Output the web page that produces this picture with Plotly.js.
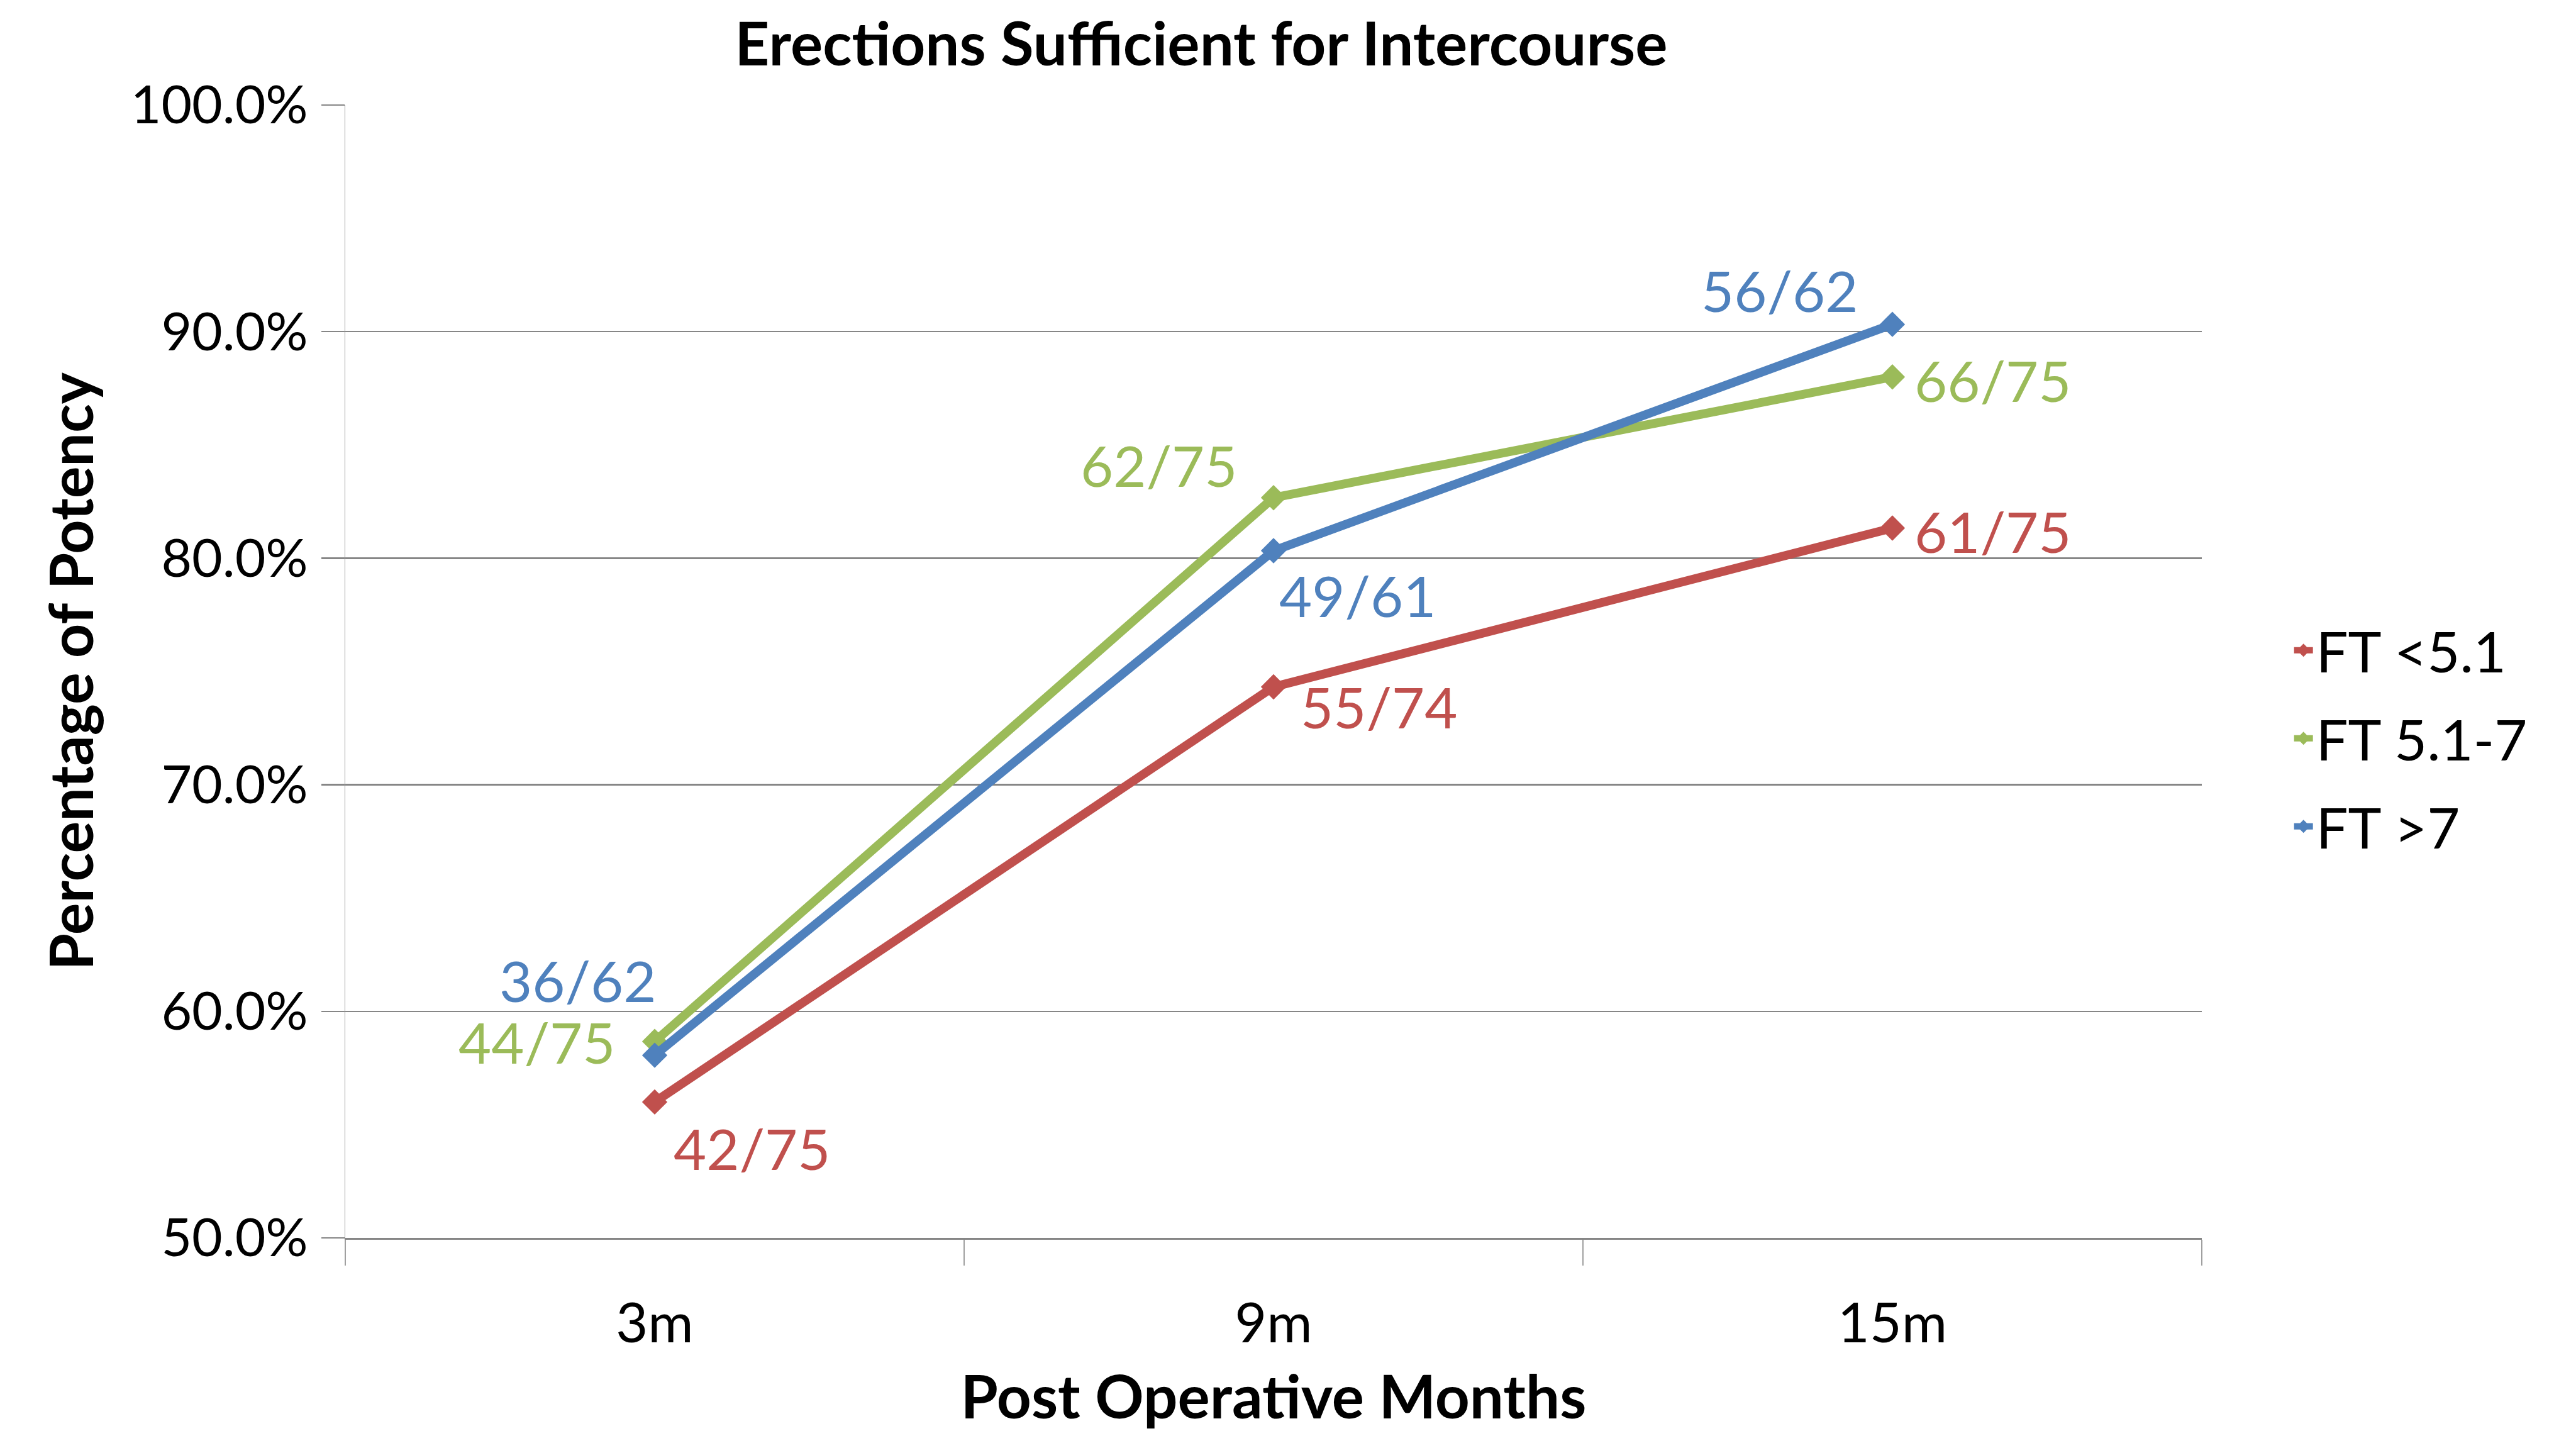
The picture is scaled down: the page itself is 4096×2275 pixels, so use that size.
<!DOCTYPE html>
<html>
<head>
<meta charset="utf-8">
<script src="https://cdn.plot.ly/plotly-3.0.1.min.js"></script>
<style>html,body{margin:0;padding:0;background:#fff;}#chart{width:4096px;height:2275px;}</style>
</head>
<body>
<div id="chart"></div>
<script>
// ---- data ----
const months = ["3m", "9m", "15m"];
const seriesNames = ["FT <5.1", "FT 5.1-7", "FT >7"];
const ftLow = [0.560, 0.7432, 0.8133];
const ftMid = [0.5867, 0.8267, 0.880];
const ftHigh = [0.5806, 0.8033, 0.9032];
const labelsLow = ["42/75", "55/74", "61/75"];
const labelsMid = ["44/75", "62/75", "66/75"];
const labelsHigh = ["36/62", "49/61", "56/62"];
const yTickVals = [0.5, 0.6, 0.7, 0.8, 0.9, 1.0];

// ---- style ----
const colors = ["#C0504D", "#9BBB59", "#4F81BD"];
const FONT = "Lato, 'Open Sans', sans-serif";
// label pixel offsets (window px) relative to the point
const offLow = [[154, -73], [167, -31], [159, -5]];
const offMid = [[-188, 0], [-183, 52], [159, -5]];
const offHigh = [[-123, 120], [133, -70], [-180, 55]];

const allVals = [ftLow, ftMid, ftHigh];
const allLabels = [labelsLow, labelsMid, labelsHigh];
const allOff = [offLow, offMid, offHigh];

const traces = allVals.map((vals, i) => ({
  type: "scatter",
  mode: "lines+markers",
  name: seriesNames[i],
  legendgroup: "g" + i,
  x: months,
  y: vals,
  line: {color: colors[i], width: 14},
  marker: {symbol: "diamond", size: 31, color: colors[i]},
  hoverinfo: "skip"
}));

const annotations = [];
allVals.forEach((vals, i) => {
  vals.forEach((v, j) => {
    annotations.push({
      x: months[j], y: v, xref: "x", yref: "y",
      text: allLabels[i][j], showarrow: false,
      xshift: allOff[i][j][0], yshift: allOff[i][j][1],
      font: {family: FONT, size: 90, color: colors[i]}
    });
  });
});

const layout = {
  width: 4096, height: 2275,
  paper_bgcolor: "#ffffff", plot_bgcolor: "#ffffff",
  margin: {l: 549, r: 595, t: 167, b: 307},
  font: {family: FONT, color: "#000"},
  title: {
    text: "<b>Erections Sufficient for Intercourse</b>",
    font: {family: FONT, size: 96, color: "#000"},
    xref: "container", yref: "container",
    x: 0.4663, xanchor: "center", y: 0.969, yanchor: "middle"
  },
  xaxis: {
    type: "category",
    range: [-0.5, 2.5],
    tickson: "boundaries",
    ticks: "outside", ticklen: 41, tickwidth: 1.5, tickcolor: "#a0a0a0",
    showline: true, linecolor: "#868686", linewidth: 3,
    showgrid: false, zeroline: false,
    tickfont: {family: FONT, size: 88, color: "#000"},
    ticklabelstandoff: 57,
    title: {text: "<b>Post Operative Months</b>", font: {family: FONT, size: 96, color: "#000"}, standoff: 50},
    fixedrange: true
  },
  yaxis: {
    range: [0.5, 1.0],
    tickvals: yTickVals,
    tickformat: ".1%",
    ticks: "outside", ticklen: 37, tickwidth: 2.5, tickcolor: "#868686",
    showline: true, linecolor: "#9a9a9a", linewidth: 1.5,
    showgrid: true, gridcolor: "#868686", gridwidth: 2.5,
    zeroline: false,
    tickfont: {family: FONT, size: 84, color: "#000"},
    ticklabelstandoff: 4,
    title: {text: "<b>Percentage of Potency</b>", font: {family: FONT, size: 95, color: "#000"}, standoff: 27},
    fixedrange: true
  },
  showlegend: true,
  legend: {
    x: 1.048, xanchor: "left", y: 0.441, yanchor: "middle",
    traceorder: "grouped", tracegroupgap: 20,
    font: {family: FONT, size: 90, color: "#000"},
    bgcolor: "rgba(0,0,0,0)", borderwidth: 0
  },
  annotations: annotations
};

Plotly.newPlot("chart", traces, layout, {staticPlot: true, displayModeBar: false});
</script>
</body>
</html>
